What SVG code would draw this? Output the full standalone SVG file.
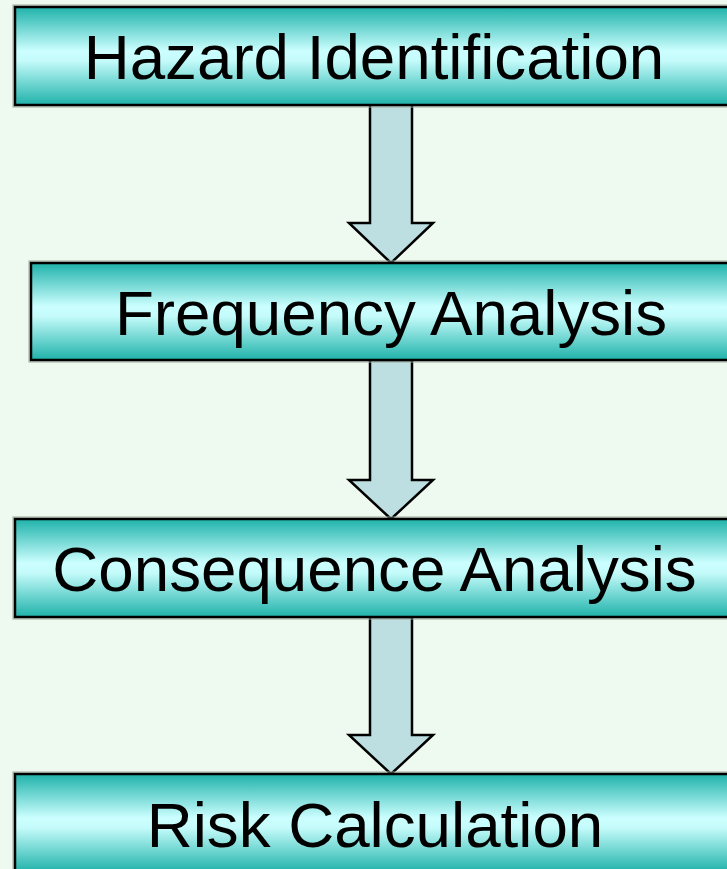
<svg xmlns="http://www.w3.org/2000/svg" width="727" height="869" viewBox="0 0 727 869">
<defs>
<linearGradient id="g" x1="0" y1="0" x2="0" y2="1">
<stop offset="0" stop-color="#1FB2AA"/>
<stop offset="0.45" stop-color="#CCFFFF"/>
<stop offset="0.55" stop-color="#C4FBFA"/>
<stop offset="1" stop-color="#1FB2AA"/>
</linearGradient>
<style>
.box{fill:url(#g);stroke:#000;stroke-width:2.5}
.sh{fill:none;stroke:#9AA89A;stroke-width:1}
.lbl{font-family:"Liberation Sans",Arial,sans-serif;font-size:63.7px;fill:#000;text-anchor:middle}
.arr{fill:#BEDFE2;stroke:#000;stroke-width:2.5;stroke-linejoin:miter}
</style>
</defs>
<rect width="727" height="869" fill="#EEFAEF"/>
<g id="connectors">
<path class="arr" d="M370,104 H412 V223 H433 L391,263 L349,223 H370 Z"/>
<path class="arr" d="M370,360 H412 V480 H433 L391,519 L349,480 H370 Z"/>
<path class="arr" d="M370,617 H412 V735 H433 L391,774 L349,735 H370 Z"/>
</g>
<g id="n1">
<rect class="sh" x="13" y="5" width="724" height="102"/>
<rect class="box" x="15" y="7" width="720" height="98"/>
<text class="lbl" x="374" y="79">Hazard Identification</text>
</g>
<g id="n2">
<rect class="sh" x="29" y="261" width="724" height="101"/>
<rect class="box" x="31" y="263" width="720" height="97"/>
<text class="lbl" x="391" y="335">Frequency Analysis</text>
</g>
<g id="n3">
<rect class="sh" x="13" y="517" width="724" height="102"/>
<rect class="box" x="15" y="519" width="720" height="98"/>
<text class="lbl" x="374.5" y="591">Consequence Analysis</text>
</g>
<g id="n4">
<rect class="sh" x="13" y="772" width="724" height="102"/>
<rect class="box" x="15" y="774" width="720" height="98"/>
<text class="lbl" x="375" y="847">Risk Calculation</text>
</g>
</svg>
